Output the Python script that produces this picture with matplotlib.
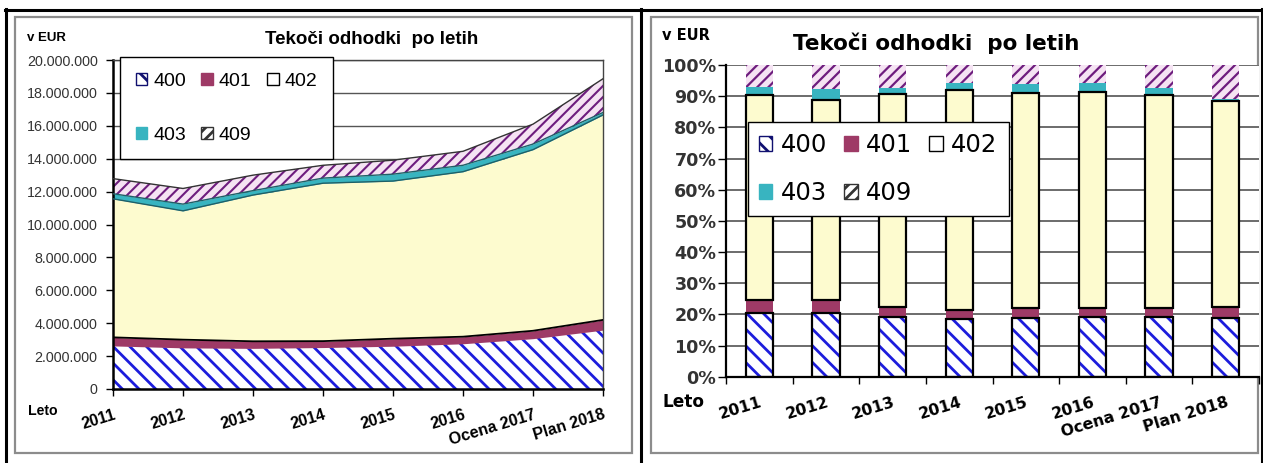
import numpy as np
import matplotlib as mpl
import matplotlib.pyplot as plt
from matplotlib.patches import Patch, Rectangle
from matplotlib.lines import Line2D
from matplotlib.ticker import FuncFormatter, MultipleLocator

# podatki (EUR) po kontih
leta = ['2011', '2012', '2013', '2014', '2015', '2016', 'Ocena 2017', 'Plan 2018']
k400 = [2620000, 2500000, 2470000, 2520000, 2600000, 2750000, 3060000, 3580000]
k401 = [520000, 500000, 430000, 390000, 460000, 430000, 480000, 620000]
k402 = [8420000, 7830000, 8890000, 9600000, 9580000, 10030000, 11010000, 12460000]
k403 = [310000, 410000, 270000, 310000, 420000, 390000, 340000, 150000]
k409 = [920000, 950000, 940000, 780000, 850000, 850000, 1210000, 2050000]
konti = ['400', '401', '402', '403', '409']

C400 = '#1c1cdc'
C401 = '#9e3a66'
C402 = '#fdfbcf'
C403 = '#38b4c0'
C409F = '#f5e3f3'
C409H = '#6e1d7e'

plt.rcParams['hatch.linewidth'] = 2.0

W, H = 1263, 463
def fx(x):
    return x / W
def fy(y):
    return 1 - y / H

fig = plt.figure(figsize=(W / 100, H / 100), dpi=100)

# okvirji (tabela + obrobi grafikonov)
for (x0, y0, x1, y1) in [(15, 17, 632, 453), (651, 17, 1258, 453)]:
    fig.patches.append(Rectangle((fx(x0), fy(y1)), fx(x1 - x0), (y1 - y0) / H,
                                 transform=fig.transFigure, facecolor='white',
                                 edgecolor='#8c8c8c', lw=1.6, zorder=-5))
for xv in [6, 641.5, 1261.5]:
    fig.lines.append(Line2D([fx(xv), fx(xv)], [0, fy(9)], transform=fig.transFigure,
                            color='black', lw=2.2))
fig.lines.append(Line2D([fx(5), fx(1262.5)], [fy(9.5), fy(9.5)], transform=fig.transFigure,
                        color='black', lw=2.2))

x = np.arange(len(leta))
vals = [np.array(v, dtype=float) for v in (k400, k401, k402, k403, k409)]
cum = np.cumsum(vals, axis=0)
total = cum[-1]

# ---------------- levi graf: ploskve ----------------
FL = 'Liberation Sans'
axL = fig.add_axes([fx(113), fy(389), (603 - 113) / W, (389 - 60) / H])
axL.set_xlim(0, 7)
axL.set_ylim(0, 20000000)
axL.yaxis.set_major_locator(MultipleLocator(2000000))
axL.yaxis.set_major_formatter(FuncFormatter(lambda v, p: f'{v:,.0f}'.replace(',', '.')))
axL.yaxis.grid(True, color='#555555', lw=1)
axL.set_axisbelow(True)

lower = np.zeros(len(x))
styles = [
    dict(facecolor='white', edgecolor=C400, hatch='\\\\'),
    dict(facecolor=C401, edgecolor=C401),
    dict(facecolor=C402, edgecolor=C402),
    dict(facecolor=C403, edgecolor=C403),
    dict(facecolor=C409F, edgecolor=C409H, hatch='///'),
]
for i, st in enumerate(styles):
    upper = cum[i]
    pc = axL.fill_between(x, lower, upper, linewidth=0, zorder=2, **st)
    if i == 4 and hasattr(pc, 'set_hatch_linewidth'):
        pc.set_hatch_linewidth(1.5)
    lower = upper
axL.plot(x, cum[1], color='black', lw=1.3, zorder=3)
axL.plot(x, cum[2], color='#1f5f66', lw=1.0, zorder=3)
axL.plot(x, cum[3], color='#1f5f66', lw=1.0, zorder=3)
axL.plot(x, cum[4], color='#333333', lw=1.0, zorder=3)

axL.set_xticks(x)
axL.set_xticklabels(leta)
axL.tick_params(axis='y', direction='out', length=5, width=1, pad=6, labelsize=10.3,
                labelcolor='#333333')
axL.tick_params(axis='x', direction='out', length=5, width=1, pad=8)
for lab in axL.get_yticklabels():
    lab.set_fontfamily(FL)
for lab in axL.get_xticklabels():
    lab.set_fontfamily(FL)
    lab.set_fontweight('bold')
    lab.set_fontsize(11.6)
    lab.set_rotation(17)
    lab.set_rotation_mode('anchor')
    lab.set_ha('right')
    lab.set_va('top')
for s in ['left', 'bottom']:
    axL.spines[s].set_color('black')
    axL.spines[s].set_linewidth(1.8)
for s in ['top', 'right']:
    axL.spines[s].set_color('#444444')
    axL.spines[s].set_linewidth(1.0)

hL = [Patch(facecolor='white', edgecolor='#101070', hatch='\\\\'),
      Patch(facecolor=C403, edgecolor=C403),
      Patch(facecolor=C401, edgecolor=C401),
      Patch(facecolor='white', edgecolor='#333333', hatch='///'),
      Patch(facecolor='white', edgecolor='black')]
lL = ['400', '403', '401', '409', '402']
legL = axL.legend(hL, lL, ncol=3, loc='upper left', bbox_to_anchor=(fx(120), fy(57)),
                  bbox_transform=fig.transFigure, borderaxespad=0, fancybox=False,
                  framealpha=1, edgecolor='black', prop={'family': FL, 'size': 14},
                  handlelength=0.6, handleheight=0.6, handletextpad=0.3,
                  columnspacing=0.8, labelspacing=1.9, borderpad=0.8)
legL.get_frame().set_linewidth(1.0)
legL.set_zorder(5)

fig.text(fx(27), fy(38), 'v EUR', ha='left', va='center', fontsize=9.5,
         fontweight='bold', family=FL)
fig.text(fx(372), fy(40), 'Tekoči odhodki  po letih', ha='center', va='center',
         fontsize=13.5, fontweight='bold', family=FL)
fig.text(fx(28), fy(411), 'Leto', ha='left', va='center', fontsize=10.2,
         fontweight='bold', family=FL)

# ---------------- desni graf: 100 % stolpci ----------------
FR = 'DejaVu Sans'
axR = fig.add_axes([fx(726), fy(376.7), (1259 - 726) / W, (376.7 - 65) / H])
pct = [v / total * 100 for v in vals]
bw = 0.41
bot = np.zeros(len(x))
for i, st in enumerate(styles):
    bars = axR.bar(x, pct[i], bw, bottom=bot, linewidth=0, zorder=2, **st)
    if i == 4:
        for b in bars:
            if hasattr(b, 'set_hatch_linewidth'):
                b.set_hatch_linewidth(1.6)
    if i in (0, 2):
        axR.bar(x, pct[i], bw, bottom=bot, fill=False, edgecolor='black',
                linewidth=1.6, zorder=3)
    bot = bot + pct[i]

axR.set_xlim(-0.5, 7.5)
axR.set_ylim(0, 100)
axR.yaxis.set_major_locator(MultipleLocator(10))
axR.yaxis.set_major_formatter(FuncFormatter(lambda v, p: f'{v:.0f}%'))
axR.yaxis.grid(True, color='#444444', lw=1.1)
axR.set_axisbelow(True)
axR.set_xticks(x)
axR.set_xticklabels(leta)
axR.set_xticks(np.arange(-0.5, 8, 1), minor=True)
axR.tick_params(axis='x', which='major', length=0, pad=13)
axR.tick_params(axis='x', which='minor', direction='out', length=5, width=1)
axR.tick_params(axis='y', direction='out', length=6, width=1, pad=1, labelsize=12.6,
                labelcolor='#333333')
for lab in axR.get_yticklabels():
    lab.set_fontfamily(FR)
    lab.set_fontweight('bold')
for lab in axR.get_xticklabels():
    lab.set_fontfamily(FR)
    lab.set_fontweight('bold')
    lab.set_fontsize(11.3)
    lab.set_rotation(17)
    lab.set_rotation_mode('anchor')
    lab.set_ha('right')
    lab.set_va('top')
for s in ['left', 'bottom']:
    axR.spines[s].set_color('black')
    axR.spines[s].set_linewidth(1.6)
for s in ['top', 'right']:
    axR.spines[s].set_visible(False)

legR = axR.legend(hL, lL, ncol=3, loc='upper left', bbox_to_anchor=(fx(748), fy(122)),
                  bbox_transform=fig.transFigure, borderaxespad=0, fancybox=False,
                  framealpha=1, edgecolor='black', prop={'family': FR, 'size': 17.5},
                  handlelength=0.55, handleheight=0.55, handletextpad=0.35,
                  columnspacing=0.7, labelspacing=1.0, borderpad=0.45)
legR.get_frame().set_linewidth(1.0)
legR.set_zorder(5)

fig.text(fx(662), fy(35), 'v EUR', ha='left', va='center', fontsize=10.5,
         fontweight='bold', family=FR)
fig.text(fx(936), fy(43), 'Tekoči odhodki  po letih', ha='center', va='center',
         fontsize=15.5, fontweight='bold', family=FR)
fig.text(fx(662), fy(402), 'Leto', ha='left', va='center', fontsize=12.2,
         fontweight='bold', family=FR)

fig.savefig('out.png', dpi=100)
